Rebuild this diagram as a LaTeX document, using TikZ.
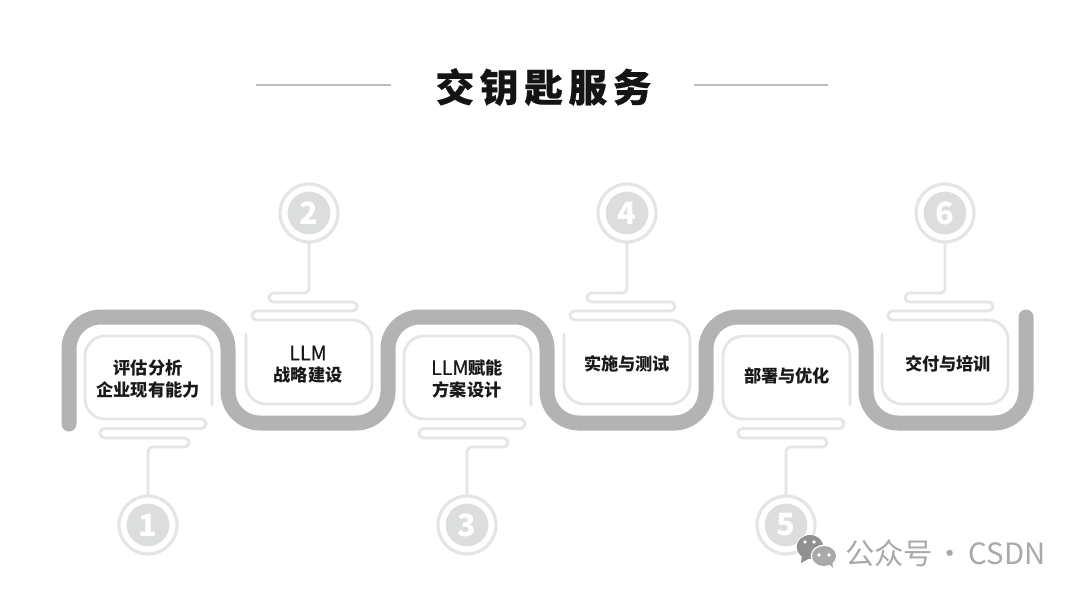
\documentclass[tikz,border=0pt]{standalone}
\usepackage{fontspec}
\usetikzlibrary{shapes.geometric}
\newfontfamily\cjk{Noto Sans CJK SC}
\definecolor{ribbongray}{HTML}{B3B3B3}
\definecolor{linegray}{HTML}{E4E5E5}
\definecolor{discgray}{HTML}{DCDEDE}
\definecolor{rulegray}{HTML}{BDBDBD}
\definecolor{markgray}{HTML}{A9A9A9}
\tikzset{
  ribbon/.style={draw=ribbongray,line width=11.25pt,line cap=round,rounded corners=24pt},
  outline/.style={draw=linegray,line width=2.1pt,line cap=round,line join=round},
  ringnode/.style={circle,draw=linegray,line width=2.4pt,minimum size=43.5pt,inner sep=0pt,fill=white},
  discnode/.style={circle,fill=discgray,minimum size=32pt,inner sep=0pt,text=white,font=\cjk\bfseries\fontsize{23}{23}\selectfont},
  steplabel/.style={align=center,text=black!90,font=\cjk\bfseries\fontsize{12.9}{16}\selectfont},
  titlerule/.style={draw=rulegray,line width=1.5pt},
  bubble/.style={ellipse,inner sep=0pt},
}
\newcommand{\latinpart}[1]{{\mdseries\fontsize{14.8}{16}\selectfont\addfontfeature{FakeBold=0.5}#1}}
\begin{document}
\begin{tikzpicture}[x=0.75pt,y=-0.75pt]
\useasboundingbox (0,0) rectangle (1080,596);
\fill[white] (0,0) rectangle (1080,596);
% title
\node[inner sep=0pt,font=\cjk\bfseries\fontsize{29}{29}\selectfont\addfontfeature{FakeBold=0.4},text=black!92] (title) at (543.5,87)
  {交\hspace{4.2pt}钥\hspace{4.2pt}匙\hspace{4.2pt}服\hspace{4.2pt}务};
\coordinate (ruleAa) at (256,85); \coordinate (ruleAb) at (391,85);
\coordinate (ruleBa) at (694,85); \coordinate (ruleBb) at (828,85);
\draw[titlerule] (ruleAa) -- (ruleAb);
\draw[titlerule] (ruleBa) -- (ruleBb);
% ribbon
\draw[ribbon] (69,424) -- (69,317) -- (228,317) -- (228,423) -- (388,423) -- (388,317)
  -- (547,317) -- (547,423) -- (706,423) -- (706,317) -- (866,317) -- (866,423)
  -- (1026,423) -- (1026,317);
% lower steps
\foreach \i/\cx in {1/148,3/467,5/786}{
  \node[ringnode] (c\i) at (\cx,525) {};
  \node[discnode] (n\i) at (\cx,525) {\i};
  \draw[outline,rounded corners=15pt] (\cx+64,405) -- (\cx+64,336) -- (\cx-63,336) -- (\cx-63,419)
    [rounded corners=3.4pt] -- (\cx+58,419) -- (\cx+58,428.5) -- (\cx-48,428.5) -- (\cx-48,438)
    -- (\cx+41,438) -- (\cx+41,447) -- (\cx,447) -- (c\i.north);
}
% upper steps
\foreach \i/\cx in {2/309,4/627,6/945}{
  \node[ringnode] (c\i) at (\cx,213) {};
  \node[discnode] (n\i) at (\cx,213) {\i};
  \draw[outline,rounded corners=15pt] (\cx-63,334) -- (\cx-63,404) -- (\cx+63,404) -- (\cx+63,320)
    [rounded corners=3.4pt] -- (\cx-57,320) -- (\cx-57,311) -- (\cx+48,311) -- (\cx+48,302)
    -- (\cx-40,302) -- (\cx-40,293) -- (\cx,293) -- (c\i.south);
}
% labels
\node[steplabel] (t1) at (148,379) {评估分析\\企业现有能力};
\node[steplabel] (t2) at (308,364.5) {\latinpart{LLM}\\战略建设};
\node[steplabel] (t3) at (467,379) {\latinpart{LLM}赋能\\方案设计};
\node[steplabel] (t4) at (627,364) {实施与测试};
\node[steplabel] (t5) at (787,376) {部署与优化};
\node[steplabel] (t6) at (948,364) {交付与培训};
% watermark
\node[bubble,fill=white,minimum width=21.5pt,minimum height=19pt] (wA0) at (810,547) {};
\node[bubble,fill=markgray!85!black,minimum width=20pt,minimum height=18pt] (wA) at (810,547) {};
\fill[markgray!85!black] (802,555) -- (801,563) -- (810,558) -- cycle;
\node[bubble,fill=white,minimum width=20pt,minimum height=17pt] (wB0) at (824,556) {};
\node[bubble,fill=markgray,minimum width=18pt,minimum height=15pt] (wB) at (824,556) {};
\fill[markgray] (827,562) -- (833,568) -- (832,560) -- cycle;
\foreach \ex/\ey in {805/542,814/542,819/555,829/555}{\fill[white] (\ex,\ey) circle (1.4pt);}
\node[anchor=west,inner sep=0pt,text=markgray,font=\cjk\fontsize{22}{22}\selectfont] (wm) at (845,553) {公众号\hspace{2pt}·\hspace{2.6pt}CSDN};
\end{tikzpicture}
\end{document}
